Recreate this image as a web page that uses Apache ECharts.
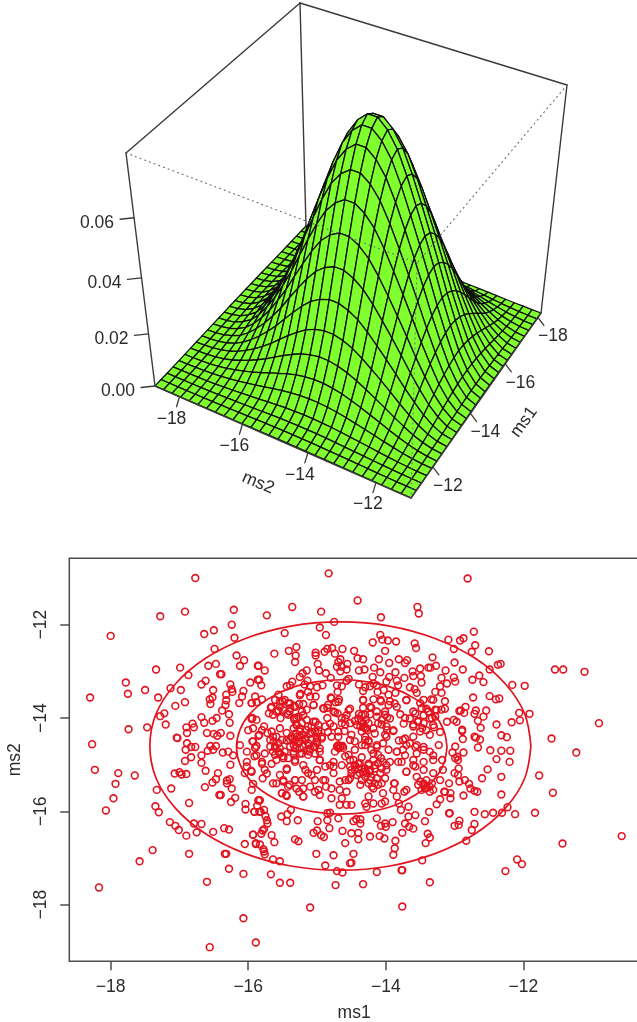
<!DOCTYPE html>
<html><head><meta charset="utf-8">
<style>html,body{margin:0;padding:0;background:#fff}#c{width:637px;height:1022px}</style>
<script src="https://cdn.jsdelivr.net/npm/echarts@6/dist/echarts.min.js"></script>
</head><body><div id="c"></div>
<script>
// ---------- data ----------
const ms1GridRange = [-18.2, -10.9];
const ms2GridRange = [-18.8, -11.0];
const ms1Profile = [.012,.04,.085,.145,.22,.31,.42,.535,.65,.76,.855,.93,.98,1,.98,.93,.855,.76,.65,.535,.42,.31,.22,.145,.085,.04,.02,.01,.004];
const ms2Profile = [.003,.008,.02,.045,.08,.135,.205,.285,.38,.48,.595,.705,.81,.90,.96,.995,.995,.96,.90,.81,.705,.595,.48,.36,.25,.15,.075,.025,.006];
const peakDensity = 0.081;
const zTicks = [0, 0.02, 0.04, 0.06];
const surfaceMs1Ticks = [-18, -16, -14, -12];
const surfaceMs2Ticks = [-18, -16, -14, -12];
const scatterMs1Ticks = [-18, -16, -14, -12];
const scatterMs2Ticks = [-18, -16, -14, -12];
const outerContour = [[-11.89,-14.60],[-11.98,-13.91],[-12.26,-13.27],[-12.70,-12.72],[-13.275,-12.30],[-13.94,-12.03],[-14.66,-11.94],[-15.38,-12.03],[-16.05,-12.30],[-16.62,-12.72],[-17.06,-13.27],[-17.34,-13.91],[-17.43,-14.60],[-17.34,-15.29],[-17.06,-15.93],[-16.62,-16.48],[-16.05,-16.90],[-15.38,-17.17],[-14.66,-17.26],[-13.94,-17.17],[-13.275,-16.90],[-12.70,-16.48],[-12.26,-15.93],[-11.98,-15.29],[-11.89,-14.60]];
const innerContour = [[-13.11,-14.62],[-13.16,-14.25],[-13.31,-13.90],[-13.56,-13.60],[-13.87,-13.37],[-14.24,-13.23],[-14.64,-13.18],[-15.04,-13.23],[-15.41,-13.37],[-15.72,-13.60],[-15.97,-13.90],[-16.12,-14.25],[-16.17,-14.62],[-16.12,-14.99],[-15.97,-15.34],[-15.72,-15.64],[-15.41,-15.87],[-15.04,-16.01],[-14.64,-16.06],[-14.24,-16.01],[-13.87,-15.87],[-13.56,-15.64],[-13.31,-15.34],[-13.16,-14.99],[-13.11,-14.62]];
const samplesUpperLeft = [[-16.77,-11.00],[-16.21,-11.68],[-16.92,-11.72],[-17.28,-11.82],[-16.24,-12.00],[-16.50,-12.12],[-16.64,-12.20],[-18.00,-12.24],[-16.20,-12.28],[-16.49,-12.52],[-16.17,-12.66],[-16.06,-12.76],[-16.58,-12.88],[-16.47,-12.84],[-16.12,-12.88],[-15.86,-12.88],[-17.34,-12.96],[-16.99,-12.92],[-16.87,-13.08],[-16.41,-13.06],[-16.39,-13.06],[-17.78,-13.24],[-16.68,-13.28],[-16.62,-13.20],[-16.26,-13.28],[-15.97,-13.24],[-15.86,-13.18],[-17.75,-13.48],[-17.50,-13.40],[-17.13,-13.36],[-16.98,-13.40],[-16.51,-13.40],[-16.24,-13.38],[-16.23,-13.44],[-16.07,-13.42],[-18.30,-13.56],[-17.31,-13.56],[-16.09,-13.54],[-15.90,-13.54],[-16.32,-13.50],[-16.52,-13.56],[-16.56,-13.60],[-16.55,-13.70],[-16.92,-13.66],[-17.06,-13.74],[-16.13,-13.68],[-16.33,-13.72],[-15.95,-13.68],[-15.88,-13.66],[-16.32,-13.62],[-16.38,-13.84],[-16.28,-13.92],[-17.22,-13.90],[-17.28,-13.96],[-16.68,-13.98],[-16.52,-14.06],[-16.46,-14.00],[-16.64,-14.10],[-16.81,-14.12],[-16.27,-14.10],[-15.95,-14.02],[-15.88,-14.04],[-17.20,-14.14],[-16.90,-14.20],[-16.79,-14.20],[-17.74,-14.24],[-17.47,-14.20],[-16.89,-14.32],[-16.00,-14.26],[-16.60,-14.32],[-16.50,-14.34],[-16.40,-14.32],[-16.45,-14.38],[-16.26,-14.38],[-15.85,-14.38],[-17.04,-14.42],[-17.03,-14.43],[-16.89,-14.54],[-18.27,-14.56],[-16.83,-14.62],[-16.77,-14.62],[-16.91,-14.68],[-16.55,-14.60],[-16.47,-14.60],[-16.12,-14.58],[-15.93,-14.50],[-16.51,-14.68],[-16.59,-14.70],[-16.37,-14.74],[-16.29,-14.72],[-16.22,-14.80],[-16.02,-14.72],[-15.90,-14.64],[-15.88,-14.60],[-16.83,-14.84],[-16.68,-14.80],[-16.92,-14.92],[-16.68,-14.96],[-16.26,-15.00],[-16.02,-14.94],[-15.91,-14.82]];
const samplesUpperMiddle = [[-14.83,-10.90],[-14.41,-11.48],[-15.36,-11.62],[-15.73,-11.80],[-14.94,-11.72],[-13.54,-11.62],[-13.52,-11.76],[-14.07,-11.84],[-14.75,-11.94],[-14.96,-12.06],[-15.47,-12.18],[-14.87,-12.22],[-14.08,-12.22],[-14.05,-12.32],[-13.97,-12.34],[-13.85,-12.36],[-14.19,-12.38],[-13.58,-12.40],[-13.56,-12.50],[-13.09,-12.32],[-15.30,-12.48],[-15.41,-12.56],[-15.62,-12.62],[-14.89,-12.58],[-14.85,-12.52],[-14.78,-12.50],[-14.63,-12.52],[-15.02,-12.60],[-15.02,-12.66],[-14.74,-12.62],[-14.46,-12.56],[-14.01,-12.56],[-15.31,-12.66],[-15.32,-12.80],[-14.41,-12.72],[-14.33,-12.74],[-14.10,-12.74],[-13.81,-12.74],[-13.69,-12.76],[-13.72,-12.82],[-13.95,-12.82],[-13.32,-12.70],[-15.85,-12.88],[-15.76,-12.98],[-14.99,-12.84],[-14.66,-12.74],[-14.69,-12.80],[-14.56,-12.84],[-14.71,-12.90],[-14.64,-12.90],[-14.97,-12.98],[-15.15,-12.98],[-15.21,-13.04],[-15.25,-13.12],[-14.87,-13.04],[-14.66,-13.00],[-14.57,-12.96],[-14.39,-12.98],[-14.31,-12.96],[-14.17,-12.92],[-14.08,-13.02],[-13.86,-13.02],[-13.61,-13.00],[-13.50,-12.94],[-13.38,-12.92],[-13.35,-12.92],[-13.27,-12.88],[-13.13,-12.98],[-13.95,-13.12],[-14.19,-13.12],[-13.60,-13.10],[-13.73,-13.14],[-13.49,-13.10],[-13.19,-13.14],[-15.84,-13.18],[-15.81,-13.30],[-15.36,-13.22],[-15.14,-13.20],[-14.80,-13.14],[-14.54,-13.16],[-14.57,-13.20],[-14.39,-13.28],[-14.71,-13.30],[-14.64,-13.32],[-14.92,-13.30],[-15.00,-13.34],[-15.10,-13.32],[-15.39,-13.30],[-15.18,-13.28],[-15.44,-13.32],[-14.18,-13.26],[-14.30,-13.34],[-14.23,-13.32],[-14.13,-13.30],[-13.99,-13.22],[-13.84,-13.20],[-13.82,-13.30],[-13.48,-13.24],[-13.11,-13.26],[-13.21,-13.32],[-13.65,-13.34],[-13.58,-13.38],[-13.28,-13.44],[-13.19,-13.46]];
const samplesCentreUpper = [[-15.80,-13.60],[-15.56,-13.50],[-15.24,-13.48],[-15.02,-13.54],[-15.13,-13.44],[-14.70,-13.44],[-14.80,-13.56],[-14.68,-13.60],[-14.33,-13.42],[-14.12,-13.44],[-14.03,-13.40],[-13.96,-13.50],[-13.86,-13.46],[-13.55,-13.46],[-13.34,-13.60],[-13.14,-13.64],[-13.70,-13.62],[-15.95,-13.68],[-15.67,-13.78],[-15.50,-13.64],[-15.42,-13.68],[-15.33,-13.74],[-15.26,-13.70],[-15.20,-13.70],[-15.05,-13.72],[-14.73,-13.66],[-14.33,-13.62],[-14.18,-13.60],[-14.07,-13.64],[-13.94,-13.64],[-14.33,-13.78],[-14.21,-13.78],[-13.84,-13.76],[-13.50,-13.68],[-13.41,-13.80],[-13.28,-13.82],[-13.19,-13.82],[-13.14,-13.80],[-15.70,-13.90],[-15.56,-13.84],[-15.53,-14.00],[-15.40,-13.86],[-15.30,-14.00],[-15.22,-13.86],[-15.15,-13.82],[-14.76,-13.86],[-14.90,-13.80],[-14.85,-13.78],[-14.70,-13.90],[-14.52,-13.80],[-14.57,-13.94],[-14.35,-13.94],[-14.23,-13.92],[-14.13,-13.86],[-13.98,-13.98],[-13.79,-13.92],[-13.72,-14.00],[-13.60,-13.86],[-13.45,-13.94],[-13.33,-14.00],[-13.11,-14.08],[-15.94,-14.00],[-15.77,-14.18],[-15.80,-14.26],[-15.93,-14.22],[-15.54,-14.22],[-15.33,-14.00],[-15.30,-14.14],[-15.25,-14.22],[-15.02,-14.08],[-14.85,-14.00],[-14.81,-14.12],[-14.64,-14.00],[-14.59,-14.14],[-14.33,-14.12],[-14.30,-14.22],[-14.27,-14.26],[-14.06,-14.14],[-13.98,-14.26],[-13.89,-14.28],[-13.74,-14.12],[-13.60,-14.14],[-13.53,-14.06],[-13.47,-14.22],[-13.30,-14.20],[-13.21,-14.30]];
const samplesCentreLower = [[-15.84,-14.36],[-15.72,-14.32],[-15.44,-14.32],[-15.36,-14.44],[-15.29,-14.40],[-15.25,-14.50],[-15.17,-14.44],[-15.08,-14.30],[-14.98,-14.26],[-14.93,-14.40],[-14.84,-14.30],[-14.69,-14.40],[-14.60,-14.28],[-14.30,-14.40],[-14.25,-14.48],[-14.01,-14.36],[-13.81,-14.48],[-13.72,-14.44],[-13.60,-14.40],[-13.36,-14.36],[-15.94,-14.50],[-15.63,-14.50],[-15.44,-14.48],[-15.34,-14.58],[-15.01,-14.50],[-15.03,-14.62],[-14.70,-14.62],[-14.66,-14.60],[-14.62,-14.64],[-14.45,-14.50],[-14.30,-14.58],[-14.13,-14.62],[-13.96,-14.68],[-13.84,-14.72],[-13.70,-14.58],[-13.57,-14.62],[-13.45,-14.62],[-13.23,-14.58],[-15.90,-14.64],[-15.76,-14.76],[-15.56,-14.72],[-15.34,-14.72],[-15.22,-14.76],[-15.11,-14.72],[-14.96,-14.72],[-14.74,-14.72],[-14.45,-14.68],[-14.18,-14.76],[-13.72,-14.80],[-13.55,-14.76],[-13.31,-14.80],[-15.88,-14.80],[-15.61,-14.64],[-15.49,-14.82],[-14.96,-14.90],[-14.59,-14.82],[-14.52,-14.90],[-14.35,-14.84],[-14.07,-14.86],[-13.82,-14.94],[-13.60,-14.90],[-13.18,-14.90],[-15.80,-14.94],[-15.66,-14.98],[-15.32,-14.94],[-14.76,-14.94],[-14.40,-14.98],[-14.25,-14.98],[-13.31,-14.90],[-15.80,-14.98],[-15.95,-15.15],[-15.76,-15.11],[-15.73,-15.19],[-15.79,-15.29],[-15.64,-15.40],[-15.54,-15.22],[-15.44,-15.08],[-15.49,-15.36],[-15.40,-15.43],[-15.51,-15.61],[-15.45,-15.65],[-15.32,-15.33],[-15.30,-15.51],[-15.22,-15.33],[-15.26,-15.58],[-15.20,-15.68],[-15.17,-15.11],[-15.13,-15.18],[-15.08,-15.22],[-15.03,-15.58],[-14.98,-15.54],[-14.91,-15.33],[-14.87,-15.47],[-14.79,-15.72],[-14.81,-15.01],[-14.76,-15.18],[-14.67,-15.36],[-14.59,-15.33],[-14.52,-15.29],[-14.57,-15.58],[-14.64,-15.72],[-14.67,-15.86],[-14.57,-15.86],[-14.50,-15.86],[-14.37,-15.43],[-14.50,-15.11],[-14.45,-15.01],[-14.35,-15.08],[-14.30,-15.15],[-14.23,-15.11],[-14.16,-15.01],[-14.06,-15.08],[-13.99,-15.01],[-14.20,-15.47],[-14.25,-15.68],[-14.30,-15.83],[-14.28,-15.90],[-14.18,-15.83],[-14.06,-15.83],[-14.01,-15.79],[-14.04,-15.61],[-14.11,-15.43],[-13.88,-15.40],[-13.89,-15.54],[-13.84,-15.68],[-13.73,-15.58],[-13.81,-15.83],[-13.78,-15.97],[-13.67,-15.90],[-13.77,-14.94],[-13.70,-15.15],[-13.57,-15.04],[-13.45,-15.11],[-13.50,-15.36],[-13.45,-15.43],[-13.43,-15.51],[-13.33,-15.40],[-13.31,-15.18],[-13.17,-15.11],[-13.14,-15.58],[-13.21,-15.33]];
const samplesCore = [[-14.69,-14.58],[-14.66,-14.61],[-14.63,-14.60],[-14.68,-14.65],[-14.71,-14.61],[-15.33,-14.04],[-15.27,-13.97],[-15.20,-13.94],[-15.15,-14.04],[-15.30,-14.15],[-15.22,-14.11],[-15.13,-14.18],[-15.34,-14.22],[-15.05,-14.08],[-14.98,-14.15],[-15.03,-14.29],[-15.10,-14.33],[-15.25,-14.29],[-15.25,-14.40],[-15.17,-14.47],[-15.08,-14.47],[-15.27,-14.54],[-15.20,-14.61],[-15.10,-14.65],[-15.00,-14.54],[-14.93,-14.44],[-14.96,-14.65],[-15.03,-14.76],[-15.13,-14.79],[-15.25,-14.76],[-15.32,-14.65],[-15.39,-14.61],[-15.47,-14.72],[-15.54,-14.76],[-15.61,-14.61],[-15.68,-14.47],[-15.64,-14.40],[-15.56,-14.54],[-15.49,-14.86],[-15.59,-14.90],[-15.32,-14.90],[-15.20,-15.01],[-14.96,-14.90],[-15.59,-13.86],[-15.64,-13.93],[-15.49,-13.83],[-15.44,-13.90],[-15.54,-13.65],[-15.47,-13.61],[-15.39,-13.69],[-15.32,-13.76],[-15.25,-13.51],[-15.10,-13.54],[-15.05,-13.72],[-14.91,-13.79],[-14.79,-13.58],[-14.69,-13.65],[-14.74,-13.88],[-14.84,-13.72],[-14.54,-13.83],[-14.59,-14.01],[-14.52,-14.11],[-14.64,-14.11],[-14.76,-14.18],[-14.69,-14.29],[-14.79,-14.40],[-14.88,-14.18],[-14.40,-14.01],[-14.33,-14.11],[-14.28,-14.22],[-14.35,-14.29],[-14.42,-14.15],[-14.30,-13.93],[-14.50,-14.36],[-14.30,-14.47],[-14.35,-14.58],[-14.25,-14.51],[-14.52,-14.47],[-14.33,-13.61],[-14.23,-13.76],[-14.08,-13.61],[-13.96,-13.72],[-13.87,-13.69],[-14.01,-13.93],[-14.11,-14.11],[-13.99,-14.18],[-13.89,-14.26],[-14.16,-14.33],[-14.18,-14.22],[-14.01,-13.86],[-13.75,-14.47],[-13.65,-14.54],[-13.55,-14.58],[-13.45,-14.68],[-13.36,-14.72],[-13.41,-14.26],[-13.31,-14.15],[-13.57,-13.90],[-13.48,-13.79],[-13.38,-13.86],[-13.60,-14.18],[-13.70,-13.61],[-13.31,-13.61],[-13.26,-13.83],[-13.45,-13.61],[-14.54,-14.79],[-14.47,-14.90],[-14.40,-15.08],[-14.33,-15.15],[-14.25,-15.01],[-14.18,-14.90],[-14.11,-14.79],[-14.04,-14.94],[-14.45,-15.11],[-14.38,-15.18],[-14.30,-15.26],[-14.23,-15.33],[-14.16,-15.40],[-14.08,-15.18],[-14.01,-15.29],[-13.94,-14.94],[-14.21,-14.68],[-14.13,-14.58],[-14.04,-14.54],[-13.99,-14.40],[-13.84,-14.72],[-13.75,-14.68],[-13.70,-15.15],[-13.60,-15.01],[-13.45,-14.94],[-13.55,-15.26],[-13.36,-15.47],[-13.45,-15.40],[-13.48,-15.54],[-13.31,-15.54],[-13.87,-15.40],[-13.70,-15.54],[-15.59,-15.40],[-15.49,-15.33],[-15.44,-15.11],[-15.32,-15.33],[-15.42,-15.47],[-15.51,-15.61],[-15.20,-15.51],[-15.10,-15.47],[-15.03,-15.33],[-14.88,-15.33],[-14.79,-15.51],[-14.67,-15.54],[-14.54,-15.33],[-15.00,-15.11],[-14.88,-15.04],[-14.76,-15.04],[-14.64,-15.01],[-15.20,-15.68],[-14.96,-15.65],[-15.44,-15.67]];
const samplesClusters = [[-15.31,-14.33],[-15.37,-14.40],[-15.15,-14.26],[-15.08,-14.18],[-15.20,-14.36],[-15.13,-14.54],[-15.05,-14.61],[-15.15,-14.69],[-15.22,-14.47],[-15.32,-14.47],[-15.39,-14.47],[-14.98,-14.33],[-15.00,-14.44],[-15.25,-14.65],[-15.34,-14.76],[-15.42,-14.86],[-14.52,-15.04],[-14.45,-15.01],[-14.38,-14.97],[-14.30,-15.08],[-14.23,-15.15],[-14.16,-15.08],[-14.11,-14.97],[-14.42,-15.22],[-14.35,-15.33],[-14.28,-15.18],[-14.21,-15.26],[-14.13,-15.29],[-14.06,-15.40],[-13.99,-15.11],[-14.50,-15.18],[-14.25,-15.40],[-14.18,-15.51],[-14.36,-14.08],[-14.29,-14.04],[-14.37,-14.18],[-14.25,-14.11],[-14.32,-14.20],[-14.39,-13.91],[-14.45,-14.06],[-13.41,-15.33],[-13.53,-15.43],[-13.36,-15.58],[-13.41,-15.50],[-15.66,-14.29],[-15.59,-14.40],[-15.51,-14.47],[-15.68,-14.61],[-15.64,-14.72],[-15.54,-14.65],[-15.61,-14.79],[-15.61,-13.61],[-15.66,-13.76],[-15.39,-13.79],[-15.54,-13.76],[-15.42,-13.93],[-13.53,-14.08],[-13.45,-14.11],[-13.36,-14.01],[-13.50,-14.29],[-13.28,-13.97],[-13.65,-14.01],[-14.13,-13.97],[-14.06,-14.04],[-13.94,-14.01]];
const samplesLowerLeft = [[-18.23,-15.11],[-17.89,-15.18],[-17.93,-15.41],[-17.65,-15.23],[-17.96,-15.72],[-18.07,-15.98],[-17.33,-15.54],[-17.12,-15.51],[-17.35,-15.89],[-17.30,-16.02],[-17.07,-15.19],[-17.00,-15.16],[-16.97,-15.21],[-16.90,-15.20],[-16.62,-15.13],[-16.63,-15.48],[-16.52,-15.38],[-16.47,-15.31],[-16.44,-15.18],[-16.42,-15.65],[-16.40,-15.65],[-16.31,-15.34],[-16.27,-15.31],[-16.31,-15.40],[-16.24,-15.51],[-16.19,-15.71],[-16.25,-15.80],[-16.86,-15.82],[-17.14,-16.23],[-17.06,-16.31],[-17.01,-16.40],[-16.90,-16.52],[-16.79,-16.26],[-16.68,-16.27],[-16.75,-16.45],[-16.51,-16.44],[-16.35,-16.36],[-16.28,-16.39],[-16.04,-15.84],[-16.04,-15.96],[-15.91,-16.01],[-15.85,-15.77],[-15.84,-16.01],[-15.95,-15.54],[-15.93,-15.41],[-16.05,-15.18],[-15.96,-15.13],[-16.02,-15.04],[-15.93,-16.50],[-16.05,-16.70],[-15.89,-16.68],[-17.39,-16.83],[-17.58,-17.07],[-16.86,-16.91],[-16.34,-16.91],[-16.32,-16.91],[-16.28,-17.23],[-16.07,-17.34],[-16.60,-17.51],[-18.17,-17.63],[-16.07,-18.29],[-16.56,-18.91],[-15.89,-18.81]];
const samplesLowerMiddle = [[-15.10,-18.06],[-13.76,-18.04],[-15.67,-17.35],[-15.54,-17.53],[-15.39,-17.53],[-14.73,-17.58],[-14.33,-17.56],[-13.36,-17.52],[-15.01,-16.91],[-14.76,-16.94],[-14.47,-16.91],[-14.52,-17.11],[-14.50,-17.10],[-14.88,-17.16],[-14.71,-17.28],[-14.63,-17.31],[-14.13,-17.30],[-13.77,-17.26],[-13.76,-17.26],[-13.47,-17.05],[-15.64,-17.03],[-15.54,-17.07],[-13.89,-16.93],[-13.87,-16.79],[-13.86,-16.63],[-13.39,-16.48],[-13.36,-16.56],[-13.42,-16.68],[-14.59,-16.68],[-14.40,-16.60],[-14.23,-16.54],[-14.09,-16.53],[-14.02,-16.58],[-15.32,-16.60],[-15.27,-16.64],[-15.62,-16.66],[-15.66,-16.51],[-15.77,-16.38],[-15.79,-16.41],[-15.93,-16.50],[-15.81,-16.48],[-15.89,-16.70],[-15.83,-16.71],[-15.78,-16.81],[-15.76,-16.92],[-15.77,-16.86],[-15.05,-16.46],[-15.00,-16.41],[-14.94,-16.51],[-14.90,-16.55],[-14.82,-16.36],[-14.63,-16.42],[-14.50,-16.47],[-14.40,-16.46],[-14.47,-16.21],[-14.37,-16.17],[-14.37,-16.26],[-14.43,-16.17],[-14.13,-16.15],[-14.07,-16.31],[-14.01,-16.26],[-14.00,-16.33],[-13.90,-16.23],[-13.76,-16.46],[-13.72,-16.26],[-13.67,-16.11],[-13.66,-16.33],[-13.60,-16.37],[-13.43,-16.21],[-13.57,-16.08],[-13.37,-16.01],[-13.21,-15.74],[-13.26,-15.85],[-13.08,-16.04],[-13.15,-15.58],[-14.99,-16.21],[-14.85,-16.19],[-14.85,-16.04],[-14.81,-16.03],[-14.69,-16.15],[-15.28,-16.19],[-15.52,-16.11],[-15.44,-16.21],[-15.38,-15.97],[-15.43,-16.06],[-15.85,-15.76],[-15.83,-15.76],[-15.87,-15.88],[-15.91,-16.01],[-15.82,-16.01],[-15.77,-15.97],[-15.75,-16.10],[-15.73,-16.19],[-15.72,-16.26]];
const samplesRight = [[-12.81,-11.01],[-12.72,-12.15],[-12.87,-12.29],[-12.92,-12.34],[-12.70,-12.44],[-13.01,-12.52],[-12.75,-12.58],[-12.50,-12.57],[-13.00,-12.81],[-12.33,-12.84],[-12.37,-12.86],[-12.88,-12.96],[-12.49,-12.96],[-12.64,-13.09],[-11.54,-12.96],[-11.42,-12.96],[-11.11,-13.01],[-12.74,-13.18],[-12.58,-13.23],[-13.01,-13.13],[-12.99,-13.22],[-12.16,-13.29],[-11.98,-13.31],[-12.49,-13.53],[-12.73,-13.56],[-12.40,-13.60],[-12.35,-13.58],[-10.90,-14.11],[-12.84,-13.76],[-12.93,-13.85],[-12.91,-13.84],[-12.86,-13.89],[-12.69,-13.84],[-12.71,-13.91],[-12.54,-13.84],[-12.58,-13.97],[-12.66,-14.06],[-13.01,-14.04],[-12.97,-14.08],[-12.06,-13.89],[-11.91,-13.91],[-12.05,-14.05],[-12.17,-14.09],[-12.39,-14.14],[-12.62,-14.21],[-12.89,-14.25],[-12.89,-14.28],[-12.32,-14.37],[-12.24,-14.41],[-12.71,-14.40],[-12.69,-14.42],[-12.63,-14.46],[-12.88,-14.45],[-11.59,-14.44],[-12.66,-14.63],[-12.99,-14.61],[-13.03,-14.74],[-12.87,-14.74],[-12.48,-14.69],[-12.32,-14.70],[-12.19,-14.70],[-11.23,-14.74],[-12.39,-14.88],[-12.20,-14.94],[-12.96,-14.83],[-12.95,-14.90],[-12.99,-14.86],[-12.52,-15.10],[-12.60,-15.29],[-12.32,-15.26],[-11.77,-15.23],[-11.57,-15.60],[-12.32,-15.64],[-13.00,-15.18],[-12.95,-15.22],[-12.94,-15.08],[-12.93,-15.36],[-12.85,-15.33],[-12.79,-15.41],[-12.77,-15.51],[-12.71,-15.56],[-12.67,-15.58],[-12.87,-15.66],[-13.08,-15.40],[-13.06,-15.61],[-13.06,-15.72],[-12.71,-16.01],[-12.56,-16.06],[-12.44,-16.03],[-12.31,-16.03],[-12.23,-15.91],[-12.12,-16.06],[-11.83,-16.03],[-13.07,-16.04],[-13.00,-16.31],[-12.94,-16.29],[-12.93,-16.20],[-12.71,-16.27],[-12.75,-16.40],[-12.83,-16.63],[-11.43,-16.69],[-10.57,-16.53],[-12.09,-17.03],[-12.02,-17.13],[-12.26,-17.28]];
const samples = [...samplesUpperLeft,...samplesUpperMiddle,...samplesCentreUpper,...samplesCentreLower,...samplesCore,...samplesClusters,...samplesLowerLeft,...samplesLowerMiddle,...samplesRight];

// ---------- perspective box of the surface plot ----------
const zMax = 0.08, persp = 0.866;
const baseQuad = [[306,226],[155,386],[411,498],[541,313]];   // back, left, front, right
const topQuad  = [[300,3],[126,153],[417,263],[567,85]];
function quadMap(q){
  const [x0,y0]=q[0],[x1,y1]=q[1],[x2,y2]=q[2],[x3,y3]=q[3];
  const dx3=x0-x1+x2-x3,dy3=y0-y1+y2-y3,dx1=x1-x2,dx2=x3-x2,dy1=y1-y2,dy2=y3-y2;
  const det=dx1*dy2-dx2*dy1,g=(dx3*dy2-dx2*dy3)/det,h=(dx1*dy3-dx3*dy1)/det;
  const a=x1-x0+g*x1,b=x3-x0+h*x3,d=y1-y0+g*y1,e=y3-y0+h*y3;
  return (u,v)=>{const w=g*u+h*v+1;return [(a*u+b*v+x0)/w,(d*u+e*v+y0)/w];};
}
const baseMap=quadMap(baseQuad), topMap=quadMap(topQuad);
function projectUV(u,v,z){
  const w=z/zMax,t=w*persp/((1-w)+w*persp),B=baseMap(u,v),T=topMap(u,v);
  return [B[0]+(T[0]-B[0])*t,B[1]+(T[1]-B[1])*t];
}
const uOf=m=>(m-ms1GridRange[0])/(ms1GridRange[1]-ms1GridRange[0]);
const vOf=m=>(m-ms2GridRange[0])/(ms2GridRange[1]-ms2GridRange[0]);
const n=ms1Profile.length-1;
const zAt=(i,j)=>peakDensity*ms1Profile[i]*ms2Profile[j];
const P=(i,j)=>projectUV(i/n,j/n,zAt(i,j));

const cells=[];
for(let s=0;s<=2*(n-1);s++)for(let i=0;i<n;i++){const j=s-i;if(j>=0&&j<n)cells.push([i,j]);}

const FONT='17.5px "Liberation Sans", Arial, sans-serif', TXT='#2b2b2b', LINE='#3a3a3a';
const minus=v=>String(v).replace('-','\u2212');
function seg(a,b,color,width,dash){
  return {type:'line',shape:{x1:a[0],y1:a[1],x2:b[0],y2:b[1]},silent:true,
    style:{stroke:color,lineWidth:width,lineDash:dash||null,lineCap:'round'}};
}
function label(t,x,y,rot){
  return {type:'text',x,y,rotation:rot||0,silent:true,
    style:{text:t,x:0,y:0,fill:TXT,font:FONT,align:'center',verticalAlign:'middle'}};
}
const B=baseQuad,T=topQuad;
function boxBack(){return {type:'group',children:[
  seg(T[0],B[0],LINE,1.4)
]};}
function boxFront(){
  const ch=[seg(T[1],T[0],LINE,1.4),seg(T[0],T[3],LINE,1.4),seg(T[1],B[1],LINE,1.4),seg(T[3],B[3],LINE,1.4),
    seg(B[1],B[2],LINE,1.4),seg(B[2],B[3],LINE,1.4),
    seg(T[1],T[2],'#666',1.1,[1,4]),seg(T[3],T[2],'#666',1.1,[1,4]),seg(T[2],B[2],'#668',1,[1,4])];
  zTicks.forEach(z=>{
    const p=projectUV(1,0,z);
    ch.push(seg(p,[p[0]-14,p[1]+1.5],LINE,1.3));
    ch.push(label(z.toFixed(2),p[0]-37,p[1]+5));
  });
  surfaceMs2Ticks.forEach(m=>{
    const p=projectUV(1,vOf(m),0);
    ch.push(seg(p,[p[0]-3,p[1]+10],LINE,1.3));
    ch.push(label(minus(m),p[0]-8,p[1]+22));
  });
  surfaceMs1Ticks.forEach(m=>{
    const p=projectUV(uOf(m),1,0);
    ch.push(seg(p,[p[0]+6,p[1]+8],LINE,1.3));
    ch.push(label(minus(m),p[0]+15,p[1]+19));
  });
  ch.push(label('ms2',258,483,-0.4));
  ch.push(label('ms1',524,422,0.95));
  return {type:'group',children:ch};
}

const chart=echarts.init(document.getElementById('c'),null,{renderer:'canvas'});
chart.setOption({
  animation:false,
  backgroundColor:'#fff',
  grid:{left:69.3,top:558.3,right:-2,bottom:60.7,show:true,borderColor:'#4d4d4d',borderWidth:1.5,backgroundColor:'transparent',containLabel:false,outerBoundsMode:'none'},
  xAxis:{type:'value',min:-18.602,max:-10.318,name:'ms1',nameLocation:'middle',nameGap:43,
    nameTextStyle:{fontSize:17.5,fontFamily:'Liberation Sans',color:TXT},
    splitLine:{show:false},axisLine:{show:false},
    axisTick:{show:true,length:9,customValues:scatterMs1Ticks,lineStyle:{color:'#4d4d4d',width:1.5}},
    axisLabel:{customValues:scatterMs1Ticks,margin:17,fontSize:17.5,fontFamily:'Liberation Sans',color:TXT,formatter:minus}},
  yAxis:{type:'value',min:-19.213,max:-10.577,name:'ms2',nameLocation:'middle',nameGap:45,
    nameTextStyle:{fontSize:17.5,fontFamily:'Liberation Sans',color:TXT},
    splitLine:{show:false},axisLine:{show:false},
    axisTick:{show:true,length:9,customValues:scatterMs2Ticks,lineStyle:{color:'#4d4d4d',width:1.5}},
    axisLabel:{customValues:scatterMs2Ticks,rotate:90,margin:19,fontSize:17.5,fontFamily:'Liberation Sans',color:TXT,formatter:minus}},
  series:[
    {type:'custom',coordinateSystem:'none',silent:true,z:1,data:[[0]],renderItem:boxBack},
    {type:'custom',coordinateSystem:'none',silent:true,z:2,data:cells,
      renderItem:(p,api)=>{
        const i=api.value(0),j=api.value(1);
        return {type:'polygon',shape:{points:[P(i,j),P(i+1,j),P(i+1,j+1),P(i,j+1)]},
          style:{fill:'#7fff2e',stroke:'#0e0e0e',lineWidth:1.3,lineJoin:'round'}};
      }},
    {type:'custom',coordinateSystem:'none',silent:true,z:3,data:[[0]],renderItem:boxFront},
    {type:'line',data:outerContour,smooth:0.35,showSymbol:false,symbol:'none',silent:true,z:4,lineStyle:{color:'#e3141f',width:1.7}},
    {type:'line',data:innerContour,smooth:0.35,showSymbol:false,symbol:'none',silent:true,z:4,lineStyle:{color:'#e3141f',width:1.7}},
    {type:'scatter',data:samples,symbol:'circle',symbolSize:6.8,silent:true,z:5,
      itemStyle:{color:'transparent',borderColor:'#e3141f',borderWidth:1.6,opacity:1}}
  ]
});
</script></body></html>
